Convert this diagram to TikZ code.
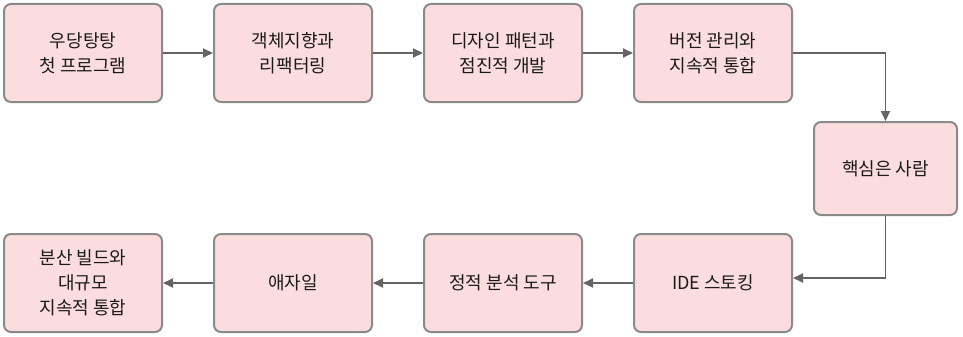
\documentclass[tikz,border=0pt]{standalone}
\usepackage{fontspec}
\newfontfamily\kofont{Noto Sans CJK KR}
\usetikzlibrary{arrows.meta,positioning}
\definecolor{st-fill}{HTML}{FBDDDF}
\definecolor{st-edge}{HTML}{8A8A8A}
\definecolor{st-ink}{HTML}{1A1A1A}
\definecolor{st-line}{HTML}{646464}

\begin{document}
\begin{tikzpicture}[
  x=1pt,y=-1pt,font=\kofont\fontsize{18}{25}\selectfont,
  stage/.style={draw=st-edge,line width=2pt,fill=st-fill,rounded corners=7pt,
                minimum width=158pt,minimum height=98pt,align=center,inner sep=2pt,
                text=st-ink},
  ar/.style={-{Triangle[length=10pt,width=9pt]},st-line,line width=1.8pt}
]
\useasboundingbox (0,0) rectangle (963,337);

% top row
\node[stage] (first)  at (83,53)  {우당탕탕\\첫 프로그램};
\node[stage] (oop)    at (293,53) {객체지향과\\리팩터링};
\node[stage] (design) at (503,53) {디자인 패턴과\\점진적 개발};
\node[stage] (vcs)    at (713,53) {버전 관리와\\지속적 통합};

% turn
\node[stage,minimum width=143pt,minimum height=93pt] (core) at (885.5,168.5) {핵심은 사람};

% bottom row
\node[stage] (ide)    at (713,283) {IDE 스토킹};
\node[stage] (lint)   at (503,283) {정적 분석 도구};
\node[stage] (agile)  at (293,283) {애자일};
\node[stage] (dist)   at (83,283)  {분산 빌드와\\대규모\\지속적 통합};

\draw[ar] (first)  -- (oop);
\draw[ar] (oop)    -- (design);
\draw[ar] (design) -- (vcs);
\draw[ar] (vcs.east) -| (core.north);
\draw[ar] (core.south) |- ([yshift=5pt]ide.east);
\draw[ar] (ide)    -- (lint);
\draw[ar] (lint)   -- (agile);
\draw[ar] (agile)  -- (dist);

\end{tikzpicture}
\end{document}
